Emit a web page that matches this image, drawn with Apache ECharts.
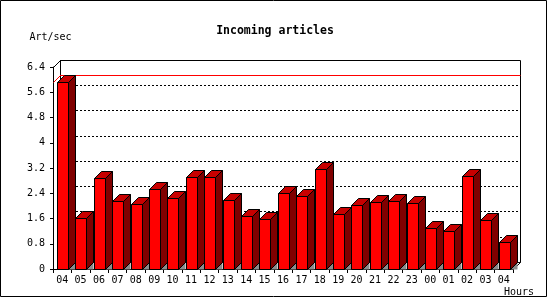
<!DOCTYPE html>
<html><head><meta charset="utf-8">
<script src="https://cdn.jsdelivr.net/npm/echarts@6/dist/echarts.min.js"></script>
<style>html,body{margin:0;padding:0;background:#fff}#c{width:550px;height:300px}</style>
</head><body><div id="c"></div>
<script>
const categories = ['04','05','06','07','08','09','10','11','12','13','14','15','16','17','18','19','20','21','22','23','00','01','02','03','04'];
const values = [5.92,1.62,2.88,2.15,2.06,2.53,2.25,2.92,2.92,2.19,1.68,1.58,2.41,2.31,3.17,1.74,2.03,2.12,2.15,2.09,1.30,1.20,2.95,1.55,0.86];
const yTickLabels = ['0','0.8','1.6','2.4','3.2','4','4.8','5.6','6.4'];
const yMin = 0, yMax = 6.4, yStep = 0.8;
const titleText = 'Incoming articles';
const yName = 'Art/sec';
const xName = 'Hours';

const L = 53, T = 67, W = 460, H = 202, D = 7;
const FONT = 'DejaVu Sans Mono';
const maxVal = Math.max.apply(null, values);

const chart = echarts.init(document.getElementById('c'), null, {renderer: 'canvas'});

const option = {
  animation: false,
  backgroundColor: '#fff',
  title: {
    text: titleText, left: 'center', top: 20,
    textStyle: {fontFamily: FONT, fontWeight: 'bold', fontSize: 11.5, color: '#000'}
  },
  grid: [
    {left: L, top: T, width: W, height: H},
    {left: L + D, top: T - D, width: W, height: H}
  ],
  xAxis: [
    {
      type: 'category', gridIndex: 0, data: categories, boundaryGap: true,
      axisLine: {lineStyle: {color: '#000', width: 1}},
      axisTick: {show: true, length: 4, interval: 0, lineStyle: {color: '#000'}},
      axisLabel: {interval: 0, margin: 6, fontFamily: FONT, fontSize: 10, color: '#000'},
      splitLine: {show: false},
      name: xName, nameLocation: 'end', nameGap: 21,
      nameTextStyle: {fontFamily: FONT, fontSize: 10, color: '#000', align: 'right', verticalAlign: 'top', padding: [18, 0, 0, 0]}
    },
    {type: 'value', gridIndex: 1, min: 0, max: 1, show: false}
  ],
  yAxis: [
    {
      type: 'value', gridIndex: 0, min: yMin, max: yMax, interval: yStep,
      axisLine: {show: true, lineStyle: {color: '#000', width: 1}},
      axisTick: {show: true, length: 3, lineStyle: {color: '#000'}},
      axisLabel: {margin: 8, fontFamily: FONT, fontSize: 10, color: '#000',
        formatter: function(v, i){ return yTickLabels[i] !== undefined ? yTickLabels[i] : String(v); }},
      splitLine: {show: false},
      name: yName, nameLocation: 'end', nameGap: 25,
      nameTextStyle: {fontFamily: FONT, fontSize: 10, color: '#000', align: 'center', padding: [0, 5, 0, 0]}
    },
    {
      type: 'value', gridIndex: 1, min: yMin, max: yMax, interval: yStep,
      axisLine: {show: false}, axisTick: {show: false}, axisLabel: {show: false},
      splitLine: {show: true, lineStyle: {color: '#000', width: 1, type: [2, 2]}}
    }
  ],
  graphic: [
    {type: 'rect', z: 0, silent: true, shape: {x: 0.5, y: 0.5, width: 546, height: 296},
      style: {fill: null, stroke: '#000', lineWidth: 1}},
    {type: 'rect', z: 1, silent: true, shape: {x: L + D + 0.5, y: T - D + 0.5, width: W, height: H},
      style: {fill: null, stroke: '#000', lineWidth: 1}},
    {type: 'line', z: 1, silent: true, shape: {x1: L + 0.5, y1: T + 0.5, x2: L + D + 0.5, y2: T - D + 0.5},
      style: {stroke: '#000', lineWidth: 1}},
    {type: 'line', z: 1, silent: true, shape: {x1: L + W + 0.5, y1: T + H + 0.5, x2: L + W + D + 0.5, y2: T + H - D + 0.5},
      style: {stroke: '#000', lineWidth: 1}}
  ],
  series: [
    {
      type: 'custom', name: 'max', xAxisIndex: 0, yAxisIndex: 0, z: 2, silent: true,
      itemStyle: {color: '#ff0000', borderColor: '#ff0000'},
      data: [[0, maxVal]],
      renderItem: function(params, api){
        const p = api.coord([0, api.value(1)]);
        const bw = api.size([1, 0])[0];
        const x0 = p[0] - bw / 2;
        const y = Math.round(p[1]);
        return {type: 'group', children: [
          {type: 'line', shape: {x1: x0 + 0.5, y1: y + 0.5, x2: x0 + D + 0.5, y2: y - D + 0.5},
            style: {stroke: '#ff0000', lineWidth: 1}},
          {type: 'line', shape: {x1: x0 + D, y1: y - D + 0.5, x2: x0 + D + W + 0.5, y2: y - D + 0.5},
            style: {stroke: '#ff0000', lineWidth: 1}}
        ]};
      }
    },
    {
      type: 'custom', name: 'Art/sec', xAxisIndex: 0, yAxisIndex: 0, z: 3, silent: true,
      data: values.map(function(v, i){ return [i, v]; }),
      renderItem: function(params, api){
        const i = api.value(0), v = api.value(1);
        const b = api.coord([i, 0]);
        const t = api.coord([i, v]);
        const bw = api.size([1, 0])[0];
        const fw = Math.round(bw * 0.6);
        const xl = Math.round(b[0] - 5.3) + 0.5;
        const xr = xl + fw;
        const yb = Math.round(b[1]) + 0.5;
        const yt = Math.round(t[1]) + 0.5;
        const st = {stroke: '#000', lineWidth: 1};
        return {type: 'group', children: [
          {type: 'polygon', shape: {points: [[xr, yb], [xr + D, yb - D], [xr + D, yb]]},
            style: {fill: '#8c8c8c', stroke: null}},
          {type: 'polygon', shape: {points: [[xl, yt], [xr, yt], [xr, yb], [xl, yb]]},
            style: Object.assign({fill: '#ff0000'}, st)},
          {type: 'polygon', shape: {points: [[xl, yt], [xl + D, yt - D], [xr + D, yt - D], [xr, yt]]},
            style: Object.assign({fill: '#c80000'}, st)},
          {type: 'polygon', shape: {points: [[xr, yt], [xr + D, yt - D], [xr + D, yb - D], [xr, yb]]},
            style: Object.assign({fill: '#800000'}, st)}
        ]};
      }
    }
  ]
};
chart.setOption(option);
</script>
</body></html>
